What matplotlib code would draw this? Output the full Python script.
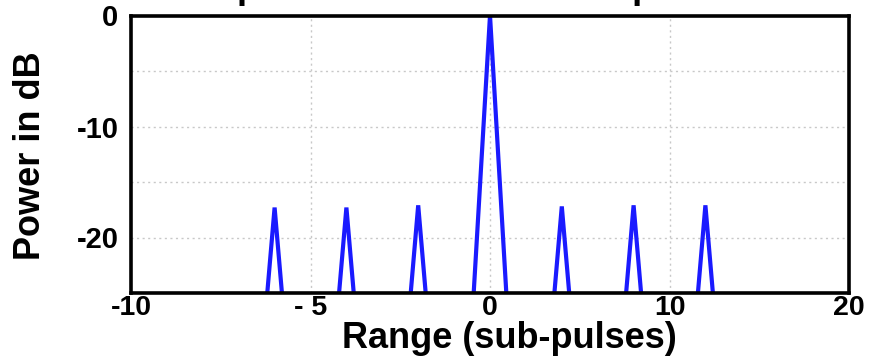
import matplotlib
matplotlib.use("Agg")
import matplotlib.pyplot as plt
import numpy as np

# Range bins (sub-pulses) and compressed output power (dB)
range_bins = [-10, -9, -8, -7, -6, -5, -4, -3, -2, -1, 0,
              1, 2, 3, 4, 5, 6, 7, 8, 9, 10]
power_db = [-55, -55, -55, -55, -17.3, -55, -17.3, -55, -17.1, -55, 0.0,
            -55, -17.2, -55, -17.1, -55, -17.1, -55, -55, -55, -55]

x_tick_pos = [-10, -5, 0, 5, 10]
x_tick_labels = ["-10", "- 5", "0", "10", "20"]
y_ticks = [0, -10, -20]
y_tick_labels = ["0", "-10", "-20"]

title_text = "Compressed Barker-coded pulse"
x_label = "Range (sub-pulses)"
y_label = "Power in dB"

plt.rcParams["font.family"] = ["Liberation Sans", "DejaVu Sans"]
plt.rcParams["font.weight"] = "bold"

W, H = 873, 358
fig = plt.figure(figsize=(W / 100, H / 100), dpi=100)
ax = fig.add_axes([131 / W, 65 / H, 718 / W, 277.5 / H])

ax.plot(range_bins, power_db, color=(0.1, 0.1, 1.0), lw=3.0,
        solid_joinstyle="miter", zorder=3)

ax.set_xlim(-10, 10)
ax.set_ylim(-25, 0)
ax.set_xticks(x_tick_pos)
ax.set_xticklabels(x_tick_labels, fontsize=20.5, fontweight="bold")
ax.set_yticks(y_ticks)
ax.set_yticklabels(y_tick_labels, fontsize=21, fontweight="bold")
ax.tick_params(axis="both", length=0)
ax.tick_params(axis="x", pad=1.5)
ax.tick_params(axis="y", pad=9)

# dotted grid at every 5 units on both axes
for xv in [-5, 0, 5]:
    ax.axvline(xv, color="#c8c8c8", lw=1.0, ls=(0, (1.5, 2.5)), zorder=1)
for yv in [-5, -10, -15, -20]:
    ax.axhline(yv, color="#c8c8c8", lw=1.0, ls=(0, (1.5, 2.5)), zorder=1)

for sp in ax.spines.values():
    sp.set_linewidth(2.6)
    sp.set_color("black")
    sp.set_zorder(4)

fig.text(509.5 / W, 1 - 338 / H, x_label, fontsize=26, fontweight="bold",
         ha="center", va="center")
fig.text(31 / W, 1 - 156 / H, y_label, fontsize=26, fontweight="bold",
         ha="center", va="center", rotation=90)
fig.text(156 / W, 1 + 1.7 / H, title_text, fontsize=26.3, fontweight="bold",
         ha="left", va="baseline")

fig.savefig("out.png", dpi=100)
